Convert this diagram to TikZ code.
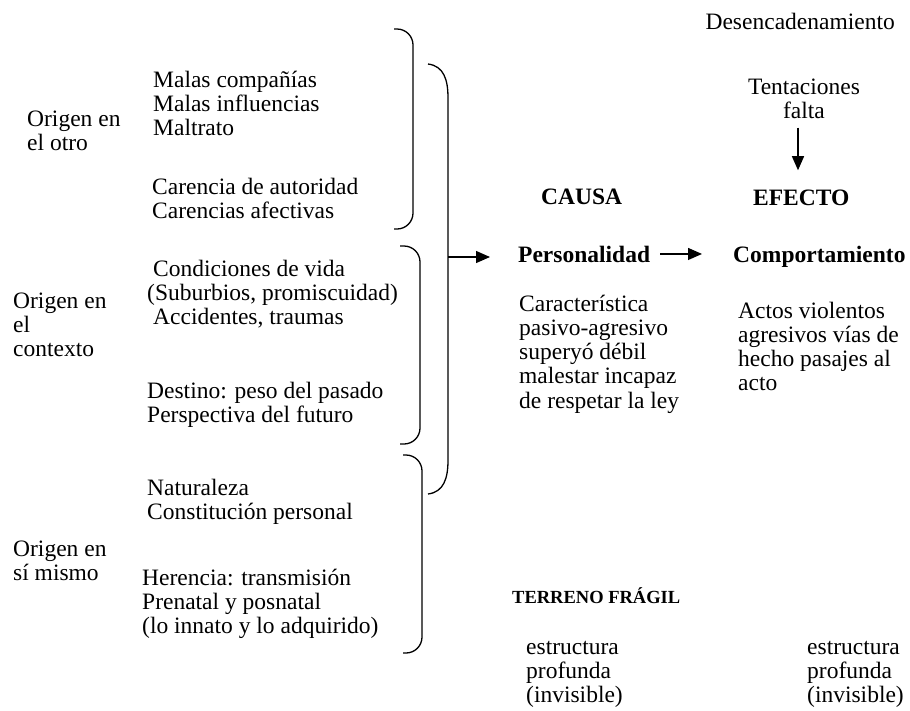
\documentclass[tikz,border=0pt]{standalone}
\usepackage{fontspec}
\setmainfont{Liberation Serif}
\usetikzlibrary{arrows.meta}
\tikzset{
  txt/.style={anchor=base west, inner sep=0pt, align=left, font=\fontsize{23.5}{24.3}\selectfont},
  btxt/.style={txt, font=\fontsize{23.5}{24.3}\selectfont\bfseries},
  brace/.style={draw, line width=1.3pt, rounded corners=16pt},
  arr/.style={draw, line width=1.3pt, -{Triangle[length=14pt,width=12pt]}}
}
\begin{document}
\begin{tikzpicture}[x=1pt,y=-1pt]
\useasboundingbox (0,0) rectangle (910,710);
% left labels (base anchor = baseline of last line)
\node[txt] (o1) at (27,150.3) {Origen en\\el otro};
\node[txt] (o2) at (13,356.6) {Origen en\\el\\contexto};
\node[txt] (o3) at (13,580.3) {Origen en\\sí mismo};
% items
\node[txt] (a1) at (153,135.6) {Malas compañías\\Malas influencias\\Maltrato};
\node[txt] (a2) at (152,218.3) {Carencia de autoridad\\Carencias afectivas};
\node[txt] (b1) at (147,324.6) {\hspace*{6pt}Condiciones de vida\\(Suburbios, promiscuidad)\\\hspace*{6pt}Accidentes, traumas};
\node[txt] (b2) at (147,422.3) {Destino: peso del pasado\\Perspectiva del futuro};
\node[txt] (c1) at (147,519.3) {Naturaleza\\Constitución personal};
\node[txt] (c2) at (142,633.6) {Herencia: transmisión\\Prenatal y posnatal\\(lo innato y lo adquirido)};
% braces
\draw[brace] (394,29) -- (413,29) -- (413,229) -- (394,229);
\draw[brace] (400,246) -- (420,246) -- (420,444) -- (400,444);
\draw[brace] (403,455) -- (422,455) -- (422,653) -- (403,653);
\draw[line width=1.3pt] (428,64) .. controls (444,66) and (448,80) .. (448,98)
  -- (448,460) .. controls (448,478) and (444,492) .. (428,494);
\coordinate (bp) at (448,257);
% right part
\node[txt, anchor=base east] (des) at (895,29) {Desencadenamiento};
\node[txt, anchor=base, align=center] (tent) at (804,118.3) {Tentaciones\\falta};
\node[btxt] (causa) at (541,204) {CAUSA};
\node[btxt] (efecto) at (753,205) {EFECTO};
\node[btxt] (pers) at (518,262) {Personalidad};
\node[btxt] (comp) at (733,262) {Comportamiento};
\node[txt] (car) at (519,408.2) {Característica\\pasivo-agresivo\\superyó débil\\malestar incapaz\\de respetar la ley};
\node[txt] (act) at (738,390.9) {Actos violentos\\agresivos vías de\\hecho pasajes al\\acto};
\node[btxt, font=\fontsize{18.5}{20}\selectfont\bfseries] (terr) at (512,603) {TERRENO FRÁGIL};
\node[txt] (e1) at (526,702.6) {estructura\\profunda\\(invisible)};
\node[txt] (e2) at (807,702.6) {estructura\\profunda\\(invisible)};
% connectors
\coordinate (ax) at (798,0);
\draw[arr, shorten >=28pt] (bp) -- (pers.west |- bp);
\draw[arr, shorten <=10pt, shorten >=31pt] (pers.east) -- (comp.west |- pers.east);
\draw[arr, shorten <=9pt, shorten >=19pt] (tent.south -| ax) -- (efecto.north -| ax);
\end{tikzpicture}
\end{document}
